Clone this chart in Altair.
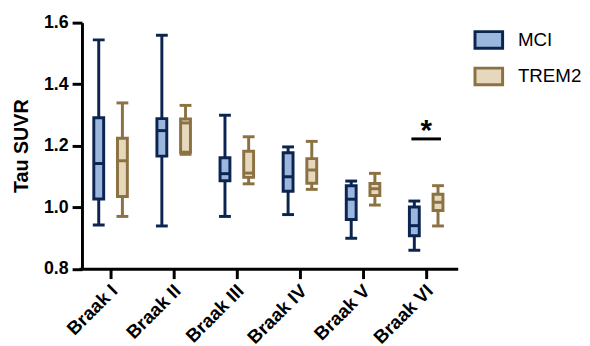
import altair as alt
import pandas as pd

categories = ["Braak I", "Braak II", "Braak III", "Braak IV", "Braak V", "Braak VI"]
groups = ["MCI", "TREM2"]

mci_min = [0.942, 0.939, 0.970, 0.976, 0.899, 0.860]
mci_q1 = [1.027, 1.166, 1.086, 1.052, 0.960, 0.907]
mci_med = [1.142, 1.249, 1.109, 1.099, 1.026, 0.940]
mci_q3 = [1.291, 1.288, 1.161, 1.177, 1.070, 1.001]
mci_max = [1.544, 1.559, 1.299, 1.196, 1.085, 1.020]

trem_min = [0.970, 1.172, 1.076, 1.058, 1.007, 0.939]
trem_q1 = [1.035, 1.179, 1.097, 1.078, 1.038, 0.989]
trem_med = [1.151, 1.274, 1.111, 1.121, 1.060, 1.016]
trem_q3 = [1.224, 1.287, 1.182, 1.158, 1.077, 1.042]
trem_max = [1.339, 1.331, 1.229, 1.214, 1.110, 1.070]

sig_stage = ["Braak VI"]
sig_y = [1.222]
sig_label = ["*"]

y_ticks = [0.8, 1.0, 1.2, 1.4, 1.6]

dark = ["#0b2550", "#8c7243"]
light = ["#9bb7de", "#e5d8bd"]

rows = []
for g, mins, q1s, meds, q3s, maxs in [
    ("MCI", mci_min, mci_q1, mci_med, mci_q3, mci_max),
    ("TREM2", trem_min, trem_q1, trem_med, trem_q3, trem_max),
]:
    for i, c in enumerate(categories):
        rows.append({"stage": c, "group": g, "min": mins[i], "q1": q1s[i],
                     "med": meds[i], "q3": q3s[i], "max": maxs[i]})
df = pd.DataFrame(rows)
sig_df = pd.DataFrame({"stage": sig_stage, "y": sig_y, "label": sig_label})

FONT = "Liberation Sans"

x_enc = alt.X("stage:N", sort=categories,
              scale=alt.Scale(paddingInner=0, paddingOuter=0),
              axis=alt.Axis(title=None, labelAngle=-45, labelAlign="right",
                            labelBaseline="middle", labelFontSize=19,
                            labelPadding=9, labelOffset=4))
xo_enc = alt.XOffset("group:N", sort=groups,
                     scale=alt.Scale(paddingInner=0, paddingOuter=0.333))
yscale = alt.Scale(domain=[0.8, 1.6], nice=False, zero=False)
y_axis = alt.Axis(title="Tau SUVR", values=y_ticks, format=".1f",
                  labelFontSize=18, titleFontSize=20, titleFontWeight="bold",
                  titleFont=FONT, offset=-3, titlePadding=12, labelPadding=4)

# line colour scale for whiskers / medians / caps (data-derived domain)
line_scale = alt.Scale(range=dark)
dark_scale = alt.Scale(domain=groups, range=dark)
light_scale = alt.Scale(domain=groups, range=light)

base = alt.Chart(df)

whisker = base.mark_rule(strokeWidth=3).encode(
    x=x_enc, xOffset=xo_enc,
    y=alt.Y("min:Q", scale=yscale, axis=y_axis),
    y2="max:Q",
    color=alt.Color("group:N", sort=groups, scale=line_scale, legend=None),
)

legend = alt.Legend(title=None, orient="none", legendX=400, legendY=2,
                    symbolType="M-1,-0.6H1V0.6H-1Z", symbolSize=784,
                    symbolStrokeWidth=3, labelFontSize=19, labelFont=FONT,
                    labelOffset=14, rowPadding=7, labelColor="black")

box = base.mark_bar(size=10, strokeWidth=3).encode(
    x=x_enc, xOffset=xo_enc,
    y=alt.Y("q1:Q", scale=yscale),
    y2="q3:Q",
    fill=alt.Fill("group:N", scale=light_scale, legend=legend),
    stroke=alt.Stroke("group:N", scale=dark_scale, legend=legend),
)

median = base.mark_tick(thickness=3, size=10, opacity=1).encode(
    x=x_enc, xOffset=xo_enc,
    y=alt.Y("med:Q", scale=yscale),
    color=alt.Color("group:N", sort=groups, scale=line_scale, legend=None),
)
cap_lo = base.mark_tick(thickness=3, size=12, opacity=1).encode(
    x=x_enc, xOffset=xo_enc,
    y=alt.Y("min:Q", scale=yscale),
    color=alt.Color("group:N", sort=groups, scale=line_scale, legend=None),
)
cap_hi = base.mark_tick(thickness=3, size=12, opacity=1).encode(
    x=x_enc, xOffset=xo_enc,
    y=alt.Y("max:Q", scale=yscale),
    color=alt.Color("group:N", sort=groups, scale=line_scale, legend=None),
)

sig_line = alt.Chart(sig_df).mark_tick(thickness=3, size=30, color="black", opacity=1).encode(
    x=alt.X("stage:N", sort=categories),
    y=alt.Y("y:Q", scale=yscale),
)
sig_text = alt.Chart(sig_df).mark_text(fontSize=30, fontWeight="bold", font=FONT,
                                       color="black", baseline="alphabetic",
                                       dy=1).encode(
    x=alt.X("stage:N", sort=categories),
    y=alt.Y("y:Q", scale=yscale),
    text="label:N",
)

chart = alt.layer(whisker, box, median, cap_lo, cap_hi, sig_line, sig_text).properties(
    width=384, height=249.5,
    autosize=alt.AutoSizeParams(type="none"),
    padding={"left": 72, "top": 12.5, "right": 126, "bottom": 76},
    background="white",
).configure_view(stroke=None).configure_axis(
    grid=False, domainColor="black", domainWidth=3, tickColor="black",
    tickWidth=3, tickSize=10, labelFont=FONT, labelFontWeight="bold",
    labelColor="black", titleColor="black",
)

chart.save("out.html", embed_options={"renderer": "svg", "actions": False})
